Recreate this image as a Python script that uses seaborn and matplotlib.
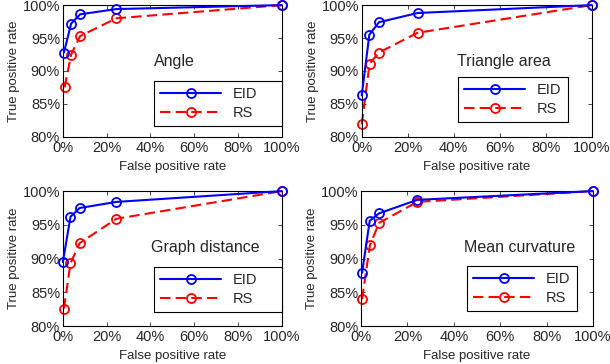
import numpy as np
import pandas as pd
import matplotlib
matplotlib.use("Agg")
import matplotlib.pyplot as plt
import seaborn as sns
from matplotlib.ticker import FuncFormatter, MultipleLocator

# ---- data (in %) ----
PANELS = ["Angle", "Triangle area", "Graph distance", "Mean curvature"]

angle_fpr_eid = [0.5, 3.8, 7.9, 24.5, 100]
angle_tpr_eid = [92.8, 97.2, 98.6, 99.4, 100]
angle_fpr_rs = [0.8, 3.8, 7.9, 24.5, 100]
angle_tpr_rs = [87.5, 92.5, 95.3, 98.0, 100]

tri_fpr_eid = [0.0, 3.3, 7.5, 24.3, 100]
tri_tpr_eid = [86.3, 95.5, 97.4, 98.8, 100]
tri_fpr_rs = [0.0, 3.4, 7.5, 24.3, 100]
tri_tpr_rs = [81.9, 91.1, 92.8, 95.8, 100]

graph_fpr_eid = [0.0, 3.5, 7.7, 24.5, 100]
graph_tpr_eid = [89.5, 96.2, 97.5, 98.4, 100]
graph_fpr_rs = [0.5, 3.5, 7.7, 24.5, 100]
graph_tpr_rs = [82.6, 89.3, 92.3, 95.9, 100]

curv_fpr_eid = [0.4, 3.7, 7.7, 24.2, 100]
curv_tpr_eid = [87.9, 95.6, 96.7, 98.7, 100]
curv_fpr_rs = [0.4, 3.8, 7.8, 24.2, 100]
curv_tpr_rs = [84.0, 92.0, 95.3, 98.4, 100]

SERIES = [
    (angle_fpr_eid, angle_tpr_eid, angle_fpr_rs, angle_tpr_rs),
    (tri_fpr_eid, tri_tpr_eid, tri_fpr_rs, tri_tpr_rs),
    (graph_fpr_eid, graph_tpr_eid, graph_fpr_rs, graph_tpr_rs),
    (curv_fpr_eid, curv_tpr_eid, curv_fpr_rs, curv_tpr_rs),
]

# ---- layout (figure fractions, measured from reference) ----
AX_POS = [
    [0.103, 0.624, 0.359, 0.362],
    [0.593, 0.624, 0.377, 0.362],
    [0.103, 0.104, 0.359, 0.371],
    [0.592, 0.104, 0.380, 0.371],
]
LEG_BOX = [(0.417, 0.09), (0.42, 0.12), (0.417, 0.12), (0.457, 0.12)]
LEG_W = [0.583, 0.476, 0.583, 0.474]
LEG_H = [0.327, 0.327, 0.30, 0.32]
TXT_POS = [(0.51, 0.57), (0.62, 0.57), (0.65, 0.58), (0.685, 0.58)]

sns.set_style("ticks")
plt.rcParams["font.family"] = ["Liberation Sans", "DejaVu Sans"]

fig = plt.figure(figsize=(6.10, 3.64), dpi=100)
pct = FuncFormatter(lambda v, _: f"{v:.0f}%")

for i, name in enumerate(PANELS):
    ax = fig.add_axes(AX_POS[i])
    fe, te, fr, tr = SERIES[i]
    sns.lineplot(x=fe, y=te, ax=ax, color="blue", lw=1.5, marker="o", ms=6.5,
                 mfc="none", mec="blue", mew=1.3, label="EID", clip_on=False,
                 zorder=3)
    sns.lineplot(x=fr, y=tr, ax=ax, color="red", lw=1.5, marker="o", ms=6.5,
                 mfc="none", mec="red", mew=1.3, label="RS", clip_on=False,
                 linestyle=(0, (5, 2.5)), zorder=2)
    ax.set_xlim(0, 100)
    ax.set_ylim(80, 100)
    ax.xaxis.set_major_locator(MultipleLocator(20))
    ax.yaxis.set_major_locator(MultipleLocator(5))
    ax.xaxis.set_major_formatter(pct)
    ax.yaxis.set_major_formatter(pct)
    ax.tick_params(direction="in", length=3, width=0.6, labelsize=10.5, pad=2,
                   top=True, right=True)
    ax.tick_params(axis="x", pad=3)
    for s in ax.spines.values():
        s.set_linewidth(0.8)
        s.set_color("black")
    ax.set_xlabel("False positive rate", fontsize=9.5, labelpad=4)
    ax.set_ylabel("True positive rate", fontsize=9.5, labelpad=2)
    ax.text(*TXT_POS[i], name, transform=ax.transAxes, fontsize=11.5,
            ha="center", va="center")
    leg = ax.legend(loc="center", bbox_to_anchor=(LEG_BOX[i][0], LEG_BOX[i][1],
                                                  LEG_W[i], LEG_H[i]),
                    mode="expand", fontsize=10.5, handlelength=4.2,
                    fancybox=False, edgecolor="black", framealpha=1,
                    borderpad=0.4, labelspacing=0.35, borderaxespad=0)
    leg.get_frame().set_linewidth(0.8)

fig.savefig("out.png", dpi=100)
